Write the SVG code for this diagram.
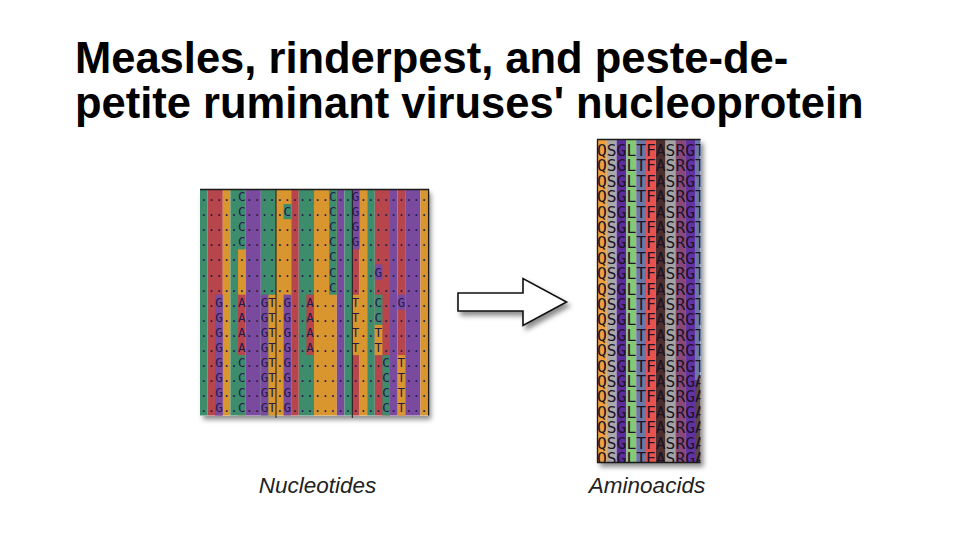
<svg xmlns="http://www.w3.org/2000/svg" width="960" height="540" viewBox="0 0 960 540">
<defs>
<style>
.title{font-family:"Liberation Sans",Arial,sans-serif;font-weight:bold;font-size:43.5px;fill:#000}
.lbl{font-family:"Liberation Sans",Arial,sans-serif;font-style:italic;font-size:22.5px;fill:#222}
.nt{font-family:"DejaVu Sans Mono","Liberation Mono",monospace;font-size:12.62px;fill:#241a4e}
.aa{font-family:"DejaVu Sans Mono","Liberation Mono",monospace;font-size:16.3px;fill:#1c1426}
.nC{fill:#3d8c6c}.nA{fill:#b6464c}.nT{fill:#d9962f}.nG{fill:#7a4a9e}
.edge{stroke:#1a1a1a;stroke-width:1.3;fill:none}
</style>
<filter id="shadow" x="-10%" y="-10%" width="130%" height="130%">
<feDropShadow dx="3" dy="4" stdDeviation="2.5" flood-color="#000" flood-opacity="0.45"/>
</filter>
<clipPath id="aaclip"><rect x="597" y="139" width="103.5" height="324"/></clipPath>
</defs>
<rect width="960" height="540" fill="#fff"/>

<g id="title">
<text class="title" x="75" y="73">Measles, rinderpest, and peste-de-</text>
<text class="title" x="75" y="118">petite ruminant viruses' nucleoprotein</text>
</g>

<g id="nucleotides">
<rect x="200" y="189" width="228" height="226.5" fill="#fff" filter="url(#shadow)"/>
<!-- consensus columns -->
<rect class="nC" x="200" y="189" width="7.6" height="226.5"/>
<rect class="nA" x="207.6" y="189" width="15.2" height="226.5"/>
<rect class="nT" x="222.8" y="189" width="7.6" height="226.5"/>
<rect class="nC" x="230.4" y="189" width="7.6" height="226.5"/>
<rect class="nT" x="238" y="189" width="7.6" height="226.5"/>
<rect class="nG" x="245.6" y="189" width="15.2" height="226.5"/>
<rect class="nC" x="260.8" y="189" width="15.2" height="226.5"/>
<rect class="nT" x="276" y="189" width="15.2" height="226.5"/>
<rect class="nA" x="291.2" y="189" width="7.6" height="226.5"/>
<rect class="nC" x="298.8" y="189" width="15.2" height="226.5"/>
<rect class="nT" x="314" y="189" width="22.8" height="226.5"/>
<rect class="nG" x="336.8" y="189" width="7.6" height="226.5"/>
<rect class="nC" x="344.4" y="189" width="7.6" height="226.5"/>
<rect class="nA" x="352" y="189" width="7.6" height="226.5"/>
<rect class="nT" x="359.6" y="189" width="7.6" height="226.5"/>
<rect class="nC" x="367.2" y="189" width="7.6" height="226.5"/>
<rect class="nA" x="374.8" y="189" width="15.2" height="226.5"/>
<rect class="nG" x="390" y="189" width="7.6" height="226.5"/>
<rect class="nA" x="397.6" y="189" width="7.6" height="226.5"/>
<rect class="nG" x="405.2" y="189" width="15.2" height="226.5"/>
<rect class="nT" x="420.4" y="189" width="7.6" height="226.5"/>
<!-- differing cells -->
<rect class="nC" x="238" y="189" width="7.6" height="60.4"/>
<rect class="nC" x="329.2" y="189" width="7.6" height="105.7"/>
<rect class="nG" x="352" y="189" width="7.6" height="60.4"/>
<rect class="nC" x="283.6" y="204.1" width="7.6" height="15.1"/>
<rect class="nG" x="374.8" y="264.5" width="7.6" height="15.1"/>
<rect class="nG" x="215.2" y="294.7" width="7.6" height="120.8"/>
<rect class="nA" x="238" y="294.7" width="7.6" height="60.4"/>
<rect class="nC" x="238" y="355.1" width="7.6" height="60.4"/>
<rect class="nG" x="260.8" y="294.7" width="7.6" height="120.8"/>
<rect class="nT" x="268.4" y="294.7" width="7.6" height="120.8"/>
<rect class="nG" x="283.6" y="294.7" width="7.6" height="120.8"/>
<rect class="nA" x="306.4" y="294.7" width="7.6" height="60.4"/>
<rect class="nT" x="352" y="294.7" width="7.6" height="60.4"/>
<rect class="nC" x="374.8" y="294.7" width="7.6" height="30.2"/>
<rect class="nT" x="374.8" y="324.9" width="7.6" height="30.2"/>
<rect class="nG" x="397.6" y="294.7" width="7.6" height="15.1"/>
<rect class="nC" x="382.4" y="355.1" width="7.6" height="60.4"/>
<rect class="nT" x="397.6" y="355.1" width="7.6" height="60.4"/>
<!-- rows -->
<text class="nt" x="200" y="201.05">.....C...........C..G.........</text>
<text class="nt" x="200" y="216.15">.....C.....C.....C..G.........</text>
<text class="nt" x="200" y="231.25">.....C...........C..G.........</text>
<text class="nt" x="200" y="246.35">.....C...........C..G.........</text>
<text class="nt" x="200" y="261.45">.................C............</text>
<text class="nt" x="200" y="276.55">.................C.....G......</text>
<text class="nt" x="200" y="291.65">.................C............</text>
<text class="nt" x="200" y="306.75">..G..A..GT.G..A.....T..C..G...</text>
<text class="nt" x="200" y="321.85">..G..A..GT.G..A.....T..C......</text>
<text class="nt" x="200" y="336.95">..G..A..GT.G..A.....T..T......</text>
<text class="nt" x="200" y="352.05">..G..A..GT.G..A.....T..T......</text>
<text class="nt" x="200" y="367.15">..G..C..GT.G............C.T...</text>
<text class="nt" x="200" y="382.25">..G..C..GT.G............C.T...</text>
<text class="nt" x="200" y="397.35">..G..C..GT.G............C.T...</text>
<text class="nt" x="200" y="412.45">..G..C..GT.G............C.T...</text>
<!-- frame -->
<path class="edge" d="M200,189.5 H428.6 V415.5"/>
<line x1="276" y1="189" x2="276" y2="418" stroke="#1a1a1a" stroke-width="1"/>
<line x1="352.3" y1="189" x2="352.3" y2="418" stroke="#1a1a1a" stroke-width="1"/>
</g>

<g id="aminoacids">
<rect x="597" y="139" width="103.5" height="324" fill="#fff" filter="url(#shadow)"/>
<g clip-path="url(#aaclip)">
<rect x="597" y="139" width="9.8" height="324" fill="#f0a03e"/>
<rect x="606.8" y="139" width="9.8" height="324" fill="#a9a9a9"/>
<rect x="616.6" y="139" width="9.8" height="324" fill="#5c2c9c"/>
<rect x="626.4" y="139" width="9.8" height="324" fill="#86c873"/>
<rect x="636.2" y="139" width="9.8" height="324" fill="#6b77a6"/>
<rect x="646" y="139" width="9.8" height="324" fill="#e8524e"/>
<rect x="655.8" y="139" width="9.8" height="324" fill="#4c2e2e"/>
<rect x="665.6" y="139" width="9.8" height="324" fill="#a3a3a3"/>
<rect x="675.4" y="139" width="9.8" height="324" fill="#8a4878"/>
<rect x="685.2" y="139" width="9.8" height="324" fill="#6232a2"/>
<rect x="695" y="139" width="6" height="241" fill="#6b77a6"/>
<rect x="695" y="380" width="6" height="83" fill="#5a4848"/>
<text class="aa" x="597" y="156">QSGLTFASRGT</text>
<text class="aa" x="597" y="171.4">QSGLTFASRGT</text>
<text class="aa" x="597" y="186.8">QSGLTFASRGT</text>
<text class="aa" x="597" y="202.2">QSGLTFASRGT</text>
<text class="aa" x="597" y="217.6">QSGLTFASRGT</text>
<text class="aa" x="597" y="233">QSGLTFASRGT</text>
<text class="aa" x="597" y="248.4">QSGLTFASRGT</text>
<text class="aa" x="597" y="263.8">QSGLTFASRGT</text>
<text class="aa" x="597" y="279.2">QSGLTFASRGT</text>
<text class="aa" x="597" y="294.6">QSGLTFASRGT</text>
<text class="aa" x="597" y="310">QSGLTFASRGT</text>
<text class="aa" x="597" y="325.4">QSGLTFASRGT</text>
<text class="aa" x="597" y="340.8">QSGLTFASRGT</text>
<text class="aa" x="597" y="356.2">QSGLTFASRGT</text>
<text class="aa" x="597" y="371.6">QSGLTFASRGT</text>
<text class="aa" x="597" y="387">QSGLTFASRGA</text>
<text class="aa" x="597" y="402.4">QSGLTFASRGA</text>
<text class="aa" x="597" y="417.8">QSGLTFASRGA</text>
<text class="aa" x="597" y="433.2">QSGLTFASRGA</text>
<text class="aa" x="597" y="448.6">QSGLTFASRGA</text>
<text class="aa" x="597" y="464">QSGLTEASRGA</text>
</g>
<path class="edge" d="M700.5,139.5 H597.5 V462.5 H700.5"/>
</g>

<g id="connectors">
<polygon points="458,293 523,293 523,278.5 566.5,302 523,325.5 523,311 458,311" fill="#fff" stroke="#111" stroke-width="1.6" stroke-linejoin="miter" filter="url(#shadow)"/>
</g>

<g id="labels">
<text class="lbl" x="317.5" y="493" text-anchor="middle">Nucleotides</text>
<text class="lbl" x="647" y="493" text-anchor="middle">Aminoacids</text>
</g>
</svg>
